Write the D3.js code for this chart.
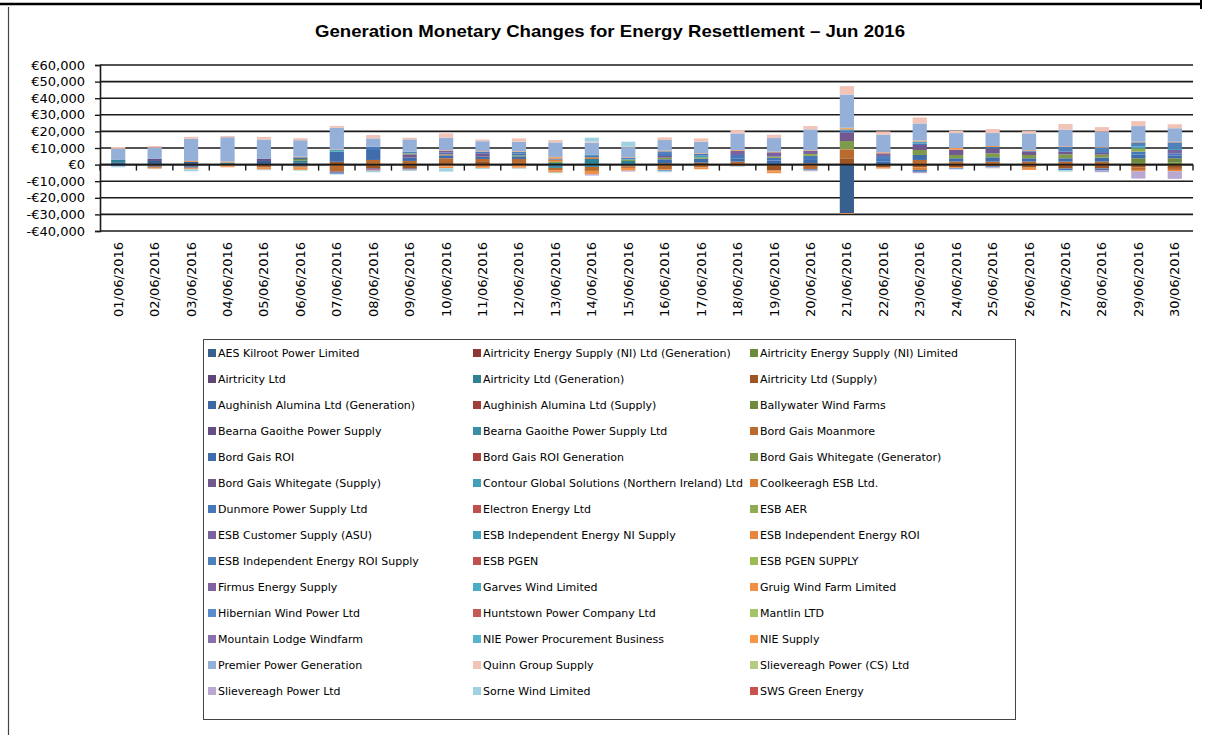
<!DOCTYPE html>
<html lang="en">
<head>
  <meta charset="utf-8">
  <title>Generation Monetary Changes for Energy Resettlement – Jun 2016</title>
</head>
<style media="screen">
  body {
    margin: 0;
    background: #fff;
  }
</style>
<body>
  <script src="https://d3js.org/d3.v7.min.js"></script>
  <div id="my_dataviz"></div>
</body>
<script>
  var dates = ["01/06/2016", "02/06/2016", "03/06/2016", "04/06/2016", "05/06/2016", "06/06/2016",
    "07/06/2016", "08/06/2016", "09/06/2016", "10/06/2016", "11/06/2016", "12/06/2016",
    "13/06/2016", "14/06/2016", "15/06/2016", "16/06/2016", "17/06/2016", "18/06/2016",
    "19/06/2016", "20/06/2016", "21/06/2016", "22/06/2016", "23/06/2016", "24/06/2016",
    "25/06/2016", "26/06/2016", "27/06/2016", "28/06/2016", "29/06/2016", "30/06/2016"];

  var companies = ["AES Kilroot Power Limited", "Airtricity Energy Supply (NI) Ltd (Generation)", "Airtricity Energy Supply (NI) Limited",
    "Airtricity Ltd", "Airtricity Ltd (Generation)", "Airtricity Ltd (Supply)",
    "Aughinish Alumina Ltd (Generation)", "Aughinish Alumina Ltd (Supply)", "Ballywater Wind Farms",
    "Bearna Gaoithe Power Supply", "Bearna Gaoithe Power Supply Ltd", "Bord Gais Moanmore",
    "Bord Gais ROI", "Bord Gais ROI Generation", "Bord Gais Whitegate (Generator)",
    "Bord Gais Whitegate (Supply)", "Contour Global Solutions (Northern Ireland) Ltd", "Coolkeeragh ESB Ltd.",
    "Dunmore Power Supply Ltd", "Electron Energy Ltd", "ESB AER",
    "ESB Customer Supply (ASU)", "ESB Independent Energy NI Supply", "ESB Independent Energy ROI",
    "ESB Independent Energy ROI Supply", "ESB PGEN", "ESB PGEN SUPPLY",
    "Firmus Energy Supply", "Garves Wind Limited", "Gruig Wind Farm Limited",
    "Hibernian Wind Power Ltd", "Huntstown Power Company Ltd", "Mantlin LTD",
    "Mountain Lodge Windfarm", "NIE Power Procurement Business", "NIE Supply",
    "Premier Power Generation", "Quinn Group Supply", "Slievereagh Power (CS) Ltd",
    "Slievereagh Power Ltd", "Sorne Wind Limited", "SWS Green Energy"];

  // daily monetary change per company (EUR), 01/06 .. 30/06
  var aesKilroot = [1400, 2200, 1600, 0, 2200, 1400, 0, 0, 0, 0, 0, 0, -600, 0, -600, 0, 0, 0, 0, 0, -29300, 0, 0, 0, 0, 0, 0, 0, 0, 0];
  var airtricityNIGen = [0, 0, 0, 0, 0, 0, 0, 0, 0, 0, 0, 0, 0, 0, 0, 0, 0, 0, 0, 0, 0, 0, 0, 0, 0, 0, 0, 0, 0, 0];
  var airtricityNILtd = [0, 0, 0, 0, 0, 0, 0, 0, 0, 0, 0, 0, 0, 0, 0, 0, 0, 0, 0, 0, 0, 0, 0, 0, 0, 0, 0, 0, 1000, 1200];
  var airtricityLtd = [0, 0, -1000, 0, 0, 0, 0, 0, 0, 0, 0, 0, 0, 0, 0, 0, 0, 0, 0, 0, 0, 0, 0, 0, 0, 0, 0, 0, 0, 0];
  var airtricityLtdGen = [1400, 0, 0, 1200, 0, 1000, 0, 0, 0, 0, 0, 0, 1000, 3400, 2200, 0, 0, 0, 0, 0, 0, 0, 0, 0, 0, 0, 0, 0, 0, 0];
  var airtricityLtdSupply = [0, -800, 0, 0, -800, 0, 1700, -2200, -2200, 1500, 1600, 1000, 0, 0, -600, 800, 1200, -600, -3600, 800, 3800, -1600, -1600, -1600, -1000, -1800, -2400, -2400, -1600, -2000];
  var aughinishGen = [-600, -500, -800, 0, 0, -1000, 0, 0, 0, 0, 0, 0, 0, 0, 0, 0, 0, 0, 0, 0, 0, 0, 0, 0, 0, 0, 0, 0, 0, 0];
  var aughinishSupply = [0, 0, 0, 0, 0, 0, 0, 0, 0, 0, 0, 0, 0, 0, 0, 0, 0, 0, 0, 0, 0, 0, 0, 0, 0, 0, 0, 0, 0, 0];
  var ballywater = [0, 0, 0, 0, 0, 1000, 0, 0, 0, 0, 0, 0, 0, 0, 0, 0, 0, 0, 0, 0, 0, 0, 0, 0, 0, 0, 0, 0, 2800, 2600];
  var bearnaSupply = [0, 1200, 0, 0, 1200, 0, 0, 0, -400, 0, 0, 0, 0, 0, 0, 0, 0, 0, 0, 0, 0, 0, 0, 0, 0, 0, 0, 0, 0, 0];
  var bearnaSupplyLtd = [0, 0, 0, 0, 0, 0, 0, 0, 0, 0, 0, 0, -1400, -1400, 0, 0, 0, 0, 0, 0, 0, 0, 0, 0, 0, 0, 0, 0, 0, 0];
  var bgMoanmore = [0, -600, -500, -600, -1000, -800, -4200, 2800, 2200, 2300, 1800, 2400, -1600, -2400, -800, -2800, -1600, 1800, 0, -2800, 5400, 0, 2800, 1800, 1800, 1800, 1800, 1800, -1600, -1200];
  var bgROI = [-400, 0, 0, 0, 0, 1000, 6100, 6000, 2000, 1800, 1400, 1600, 0, 0, 0, 2400, 2400, 2000, 2400, 2000, 0, 1800, 3000, 2000, 2600, 2000, 2000, 2400, 2200, 1600];
  var bgROIGen = [0, 0, 0, 0, 0, 0, 0, 0, -400, 0, 0, 0, 0, 0, 0, 0, 0, 0, 0, 0, 0, 0, 0, 0, 0, 0, 0, 0, 0, 0];
  var bgWhitegateGen = [0, 0, 0, 0, 0, 0, 0, 0, 0, 0, 0, 600, 800, 0, 800, 1000, 800, 0, 0, 0, 5000, 0, 3000, 2000, 2400, 2000, 2400, 1800, 0, 0];
  var bgWhitegateSupply = [0, 0, 0, 0, 0, 0, -700, -800, 2000, 0, 2000, 0, 0, 0, 0, 1000, 0, 0, 0, 0, 5200, 0, 3000, 3200, 3000, 2000, 1600, 1000, 0, 0];
  var contourGlobal = [0, 0, 0, 0, 0, 0, 0, 0, 0, 0, 0, 0, 0, 0, 400, 0, 1000, 0, 0, 0, 0, 0, 0, 0, 0, 0, 0, 0, 0, 0];
  var coolkeeragh = [0, 0, 0, 0, 0, 0, 0, 0, 0, 600, -800, -1000, 1200, 1000, 0, 0, 0, 0, 0, 0, 0, 0, -1600, 0, 0, 0, 0, 0, 0, 0];
  var dunmore = [0, 0, 0, 0, 0, 0, -600, 2000, 0, 1000, 1000, 1200, 600, 800, 600, 1200, 1000, 2000, 1600, 2400, 1000, 1600, 1000, 0, 800, 600, -1000, -1200, 1800, 1400];
  var electron = [0, 0, 0, 0, 0, 0, 0, -600, 0, 0, 0, 0, 0, 0, 0, 0, 0, 0, 0, 0, 0, 0, 0, 0, 0, 0, 0, 0, 0, 0];
  var esbAER = [0, 0, 0, 0, 0, 0, 0, 0, 600, 0, 0, 0, 0, 0, 0, 0, 0, 0, 800, 1200, 0, 0, 0, 0, 0, 0, 0, 0, 2000, 0];
  var esbCustomer = [0, 0, 0, 0, 0, 0, 0, 0, 0, 1000, 0, 0, 0, 0, 0, 0, 0, 2600, 2600, 1800, 0, 0, 0, 0, 0, 0, 0, 0, 0, 2000];
  var esbIndepNI = [0, 0, 0, 0, 0, 0, 1000, 0, 0, 0, 0, 0, 0, 600, 0, 0, 0, 0, 0, 0, 800, 0, 1100, 0, 0, 0, 0, 0, 1200, 1000];
  var esbIndepROI = [0, -500, -500, -600, -800, -800, 0, 0, 0, -1200, -800, -800, 600, 0, 0, -600, -400, -400, -400, 0, 600, -400, 0, -600, 0, -800, 0, 0, -800, -800];
  var esbIndepROISupply = [0, 0, 0, 0, 0, 0, 0, 0, 1000, 0, 0, 800, 0, 0, 0, 1600, 0, 0, 0, -600, 0, 1800, -1200, 0, -600, 0, 3000, 3000, 2400, 3600];
  var esbPGEN = [0, 0, 0, 0, 0, 0, 0, 0, 0, 0, 0, 0, 0, 0, 0, 0, 0, 0, 0, 0, 0, 0, 0, 0, 0, 0, 0, 0, 0, 0];
  var esbPGENSupply = [0, 0, 0, 0, 0, 0, 0, 0, 0, 0, 0, 0, 0, 0, 0, 0, 0, 0, 0, 0, 0, 0, 0, 0, 0, 0, 0, 0, 0, 0];
  var firmus = [0, 0, 0, 0, 0, 0, 0, 0, 0, 0, 0, 0, 0, 0, 0, 0, 0, 0, 0, 0, 0, 1600, 0, 0, 0, 0, 0, 0, 0, 0];
  var garves = [0, 0, 0, 0, 0, 0, 0, 0, 0, 0, 0, 0, 0, 0, 0, 0, 0, 0, 0, 0, 0, 0, 0, 0, 0, 0, 0, 0, 0, 0];
  var gruig = [0, 0, 0, -400, -400, -600, 0, 0, 0, -1000, -500, -400, -1200, -2000, -1600, 0, -800, 0, -1200, 0, -500, -400, 0, 0, 0, -600, 0, 0, 0, 0];
  var hibernian = [0, 0, 0, 0, 0, 0, 0, 0, 0, 0, 0, 0, 0, 0, 0, -600, 0, 0, 0, 0, 0, 0, 0, -600, 0, 0, 0, 0, 0, 0];
  var huntstown = [0, 0, 0, 0, 0, 0, 0, 0, 0, 0, 0, 0, 0, 0, 0, 0, 0, 0, 0, 0, 0, 0, 0, 0, 0, 0, 0, 0, 0, 0];
  var mantlin = [0, 0, 0, 0, 0, 0, 0, 0, 0, 0, 0, 0, 0, 0, 0, 0, 0, 0, 0, 0, 0, 0, 0, 0, 0, 0, 0, 0, 0, 0];
  var mountainLodge = [0, 0, 0, 0, 0, 0, 0, 0, 0, 0, 0, 0, 0, 0, 0, 0, 0, 0, 0, 0, 0, 0, 0, 0, 0, 0, 0, 0, 0, 0];
  var niePPB = [0, 0, 0, 0, 0, 0, 0, 0, 0, 0, 0, 0, 0, 0, 0, 0, 0, 0, 0, 0, 0, 0, 0, 0, 0, 0, 0, 0, 0, 0];
  var nieSupply = [0, 0, 600, 600, 0, 400, 300, 0, 0, 400, 300, 400, 400, 0, 400, 400, 400, 400, 400, 400, 400, 600, 600, 1000, 600, 400, 300, 400, 400, 400];
  var premierPower = [6700, 6800, 13300, 14700, 11700, 9900, 13000, 5000, 7400, 7600, 6000, 5800, 8800, 7400, 6000, 6400, 7000, 10000, 8200, 12600, 20000, 10600, 10300, 9000, 7800, 10000, 10000, 9400, 9400, 8100];
  var quinnGroup = [1100, 1000, 1200, 800, 1600, 1200, 1200, 2000, 1000, 2600, 1000, 2000, 1400, 600, 400, 1600, 2000, 2000, 2000, 2000, 5100, 2000, 3600, 1400, 2400, 1400, 3400, 2800, 3000, 2400];
  var slievereaghCS = [0, 0, 0, 0, 0, 0, 0, 0, 0, 0, 0, 0, 0, 0, 0, 0, 0, 0, 0, 0, 0, 0, 0, 0, 0, 0, 0, 0, 0, 0];
  var slievereaghLtd = [0, 0, 0, 0, 0, 0, 0, 0, 0, 0, 0, 0, 0, -800, -600, 0, 0, 0, 0, -600, 0, 0, -800, 0, -600, 0, 0, -1000, -4400, -4600];
  var sorneWind = [-600, 0, -1200, 0, -400, -400, -500, -1000, -800, -2000, -500, -300, -400, 2400, 3000, -600, 0, -300, 0, 0, 0, 0, 0, 0, 0, 0, -800, 0, 0, 0];
  var swsGreen = [0, 0, 0, 0, 0, 0, 0, 0, 0, 0, 0, 0, 0, 0, 0, 0, 0, 0, 0, 0, 0, 0, 0, 0, 0, 0, 0, 0, 0, 0];

  var seriesValues = [aesKilroot, airtricityNIGen, airtricityNILtd, airtricityLtd, airtricityLtdGen, airtricityLtdSupply,
    aughinishGen, aughinishSupply, ballywater, bearnaSupply, bearnaSupplyLtd, bgMoanmore,
    bgROI, bgROIGen, bgWhitegateGen, bgWhitegateSupply, contourGlobal, coolkeeragh,
    dunmore, electron, esbAER, esbCustomer, esbIndepNI, esbIndepROI,
    esbIndepROISupply, esbPGEN, esbPGENSupply, firmus, garves, gruig,
    hibernian, huntstown, mantlin, mountainLodge, niePPB, nieSupply,
    premierPower, quinnGroup, slievereaghCS, slievereaghLtd, sorneWind, swsGreen];

  var yTicks = [-40000, -30000, -20000, -10000, 0, 10000, 20000, 30000, 40000, 50000, 60000];

  // office-style palette, same order as the legend
  var colours = ["#38608f", "#8e3835", "#6b8a3c", "#5e4778", "#2f8296", "#9c5523",
    "#3d69a2", "#a13d3a", "#71893f", "#664f84", "#3a8ea6", "#b86a2f",
    "#3f6dab", "#aa4340", "#7f9a48", "#71588f", "#41a0b8", "#d97c35",
    "#4677bb", "#c0504d", "#8fac55", "#7a62a0", "#45a4bd", "#e8853d",
    "#4f81bd", "#c0504d", "#9bbb59", "#8064a2", "#4bacc6", "#f18f44",
    "#5a8ccb", "#c45b58", "#a5c368", "#8a70ad", "#56b4cc", "#f79646",
    "#95b0d8", "#f2c4b8", "#b3cc82", "#b8a8d2", "#9fd2e0", "#c8504d"];

  var W = 1207, H = 735;
  var plot = { left: 100, right: 1193, top: 65, bottom: 231 };

  var svg = d3.select("#my_dataviz")
    .append("svg")
    .attr("width", W)
    .attr("height", H)
    .style("display", "block");

  // outer frame (top edge and left edge only are visible)
  svg.append("line")
    .attr("x1", 0).attr("x2", 1202).attr("y1", 4).attr("y2", 4)
    .attr("stroke", "#000").attr("stroke-width", 2.5);
  svg.append("line")
    .attr("x1", 1201).attr("x2", 1201).attr("y1", 0).attr("y2", 9)
    .attr("stroke", "#000").attr("stroke-width", 2);
  svg.append("line")
    .attr("x1", 8.5).attr("x2", 8.5).attr("y1", 7).attr("y2", H)
    .attr("stroke", "#444").attr("stroke-width", 1.2);

  // title
  svg.append("text")
    .attr("x", 610).attr("y", 37)
    .attr("text-anchor", "middle")
    .attr("textLength", 590)
    .attr("lengthAdjust", "spacingAndGlyphs")
    .style("font-family", "'Liberation Sans', Arial, sans-serif")
    .style("font-weight", "bold")
    .style("font-size", "17px")
    .text("Generation Monetary Changes for Energy Resettlement – Jun 2016");

  // table for the stack
  var rows = dates.map(function(d, i) {
    var r = { date: d };
    seriesValues.forEach(function(s, k) { r[k] = s[i]; });
    return r;
  });
  var keys = d3.range(companies.length);

  var stacked = d3.stack()
    .keys(keys)
    .offset(d3.stackOffsetDiverging)(rows);

  var x = d3.scaleBand()
    .domain(dates)
    .range([plot.left, plot.right])
    .paddingInner(0.61)
    .paddingOuter(0.305);

  var y = d3.scaleLinear()
    .domain([-40000, 60000])
    .range([plot.bottom, plot.top]);

  // gridlines
  svg.append("g")
    .selectAll("line")
    .data(yTicks)
    .enter()
    .append("line")
    .attr("x1", plot.left).attr("x2", plot.right)
    .attr("y1", function(d) { return y(d); })
    .attr("y2", function(d) { return y(d); })
    .attr("stroke", "#1a1a1a")
    .attr("stroke-width", 1.6);

  // bars
  svg.append("g")
    .selectAll("g")
    .data(stacked)
    .enter()
    .append("g")
    .attr("fill", function(d) { return colours[d.key]; })
    .selectAll("rect")
    .data(function(d) { return d; })
    .enter()
    .append("rect")
    .attr("x", function(d) { return x(d.data.date); })
    .attr("width", x.bandwidth())
    .attr("y", function(d) { return y(Math.max(d[0], d[1])); })
    .attr("height", function(d) { return Math.abs(y(d[0]) - y(d[1])); });

  // Y axis
  var euro = d3.format(",");
  var yAxis = svg.append("g")
    .attr("transform", "translate(" + plot.left + ",0)")
    .call(d3.axisLeft(y)
      .tickValues(yTicks)
      .tickSize(5)
      .tickPadding(10)
      .tickFormat(function(v) { return v < 0 ? "-€" + euro(-v) : "€" + euro(v); }));
  yAxis.select(".domain").attr("stroke", "#1a1a1a").attr("stroke-width", 1.6);
  yAxis.selectAll(".tick line").attr("stroke", "#1a1a1a").attr("stroke-width", 1.4);
  yAxis.selectAll("text")
    .style("font-family", "'DejaVu Sans', Verdana, sans-serif")
    .style("font-size", "13px")
    .attr("fill", "#000");

  // X axis on the zero line, ticks between categories
  var step = x.step();
  svg.append("line")
    .attr("x1", plot.left).attr("x2", plot.right)
    .attr("y1", y(0)).attr("y2", y(0))
    .attr("stroke", "#1a1a1a").attr("stroke-width", 1.6);
  svg.append("g")
    .selectAll("line")
    .data(d3.range(dates.length + 1))
    .enter()
    .append("line")
    .attr("x1", function(k) { return plot.left + k * step; })
    .attr("x2", function(k) { return plot.left + k * step; })
    .attr("y1", y(0))
    .attr("y2", y(0) + 6)
    .attr("stroke", "#1a1a1a")
    .attr("stroke-width", 1.4);

  svg.append("g")
    .selectAll("text")
    .data(dates)
    .enter()
    .append("text")
    .attr("transform", function(d) {
      return "translate(" + (x(d) + x.bandwidth() / 2 + 4.5) + "," + 242 + ") rotate(-90)";
    })
    .attr("text-anchor", "end")
    .style("font-family", "'DejaVu Sans', Verdana, sans-serif")
    .style("font-size", "13px")
    .text(function(d) { return d; });

  // legend
  var legend = svg.append("g");
  legend.append("rect")
    .attr("x", 203.5).attr("y", 339.5).attr("width", 812).attr("height", 380)
    .attr("fill", "none").attr("stroke", "#444").attr("stroke-width", 1);

  var colX = [208, 473, 750];
  var item = legend.selectAll("g.item")
    .data(companies)
    .enter()
    .append("g")
    .attr("class", "item")
    .attr("transform", function(d, i) {
      return "translate(" + colX[i % 3] + "," + (353 + Math.floor(i / 3) * 26) + ")";
    });
  item.append("rect")
    .attr("x", 0).attr("y", -4).attr("width", 8).attr("height", 8)
    .attr("fill", function(d, i) { return colours[i]; });
  item.append("text")
    .attr("x", 10).attr("y", 4)
    .style("font-family", "'DejaVu Sans', Verdana, sans-serif")
    .style("font-size", "11px")
    .text(function(d) { return d; });
</script>
</html>
